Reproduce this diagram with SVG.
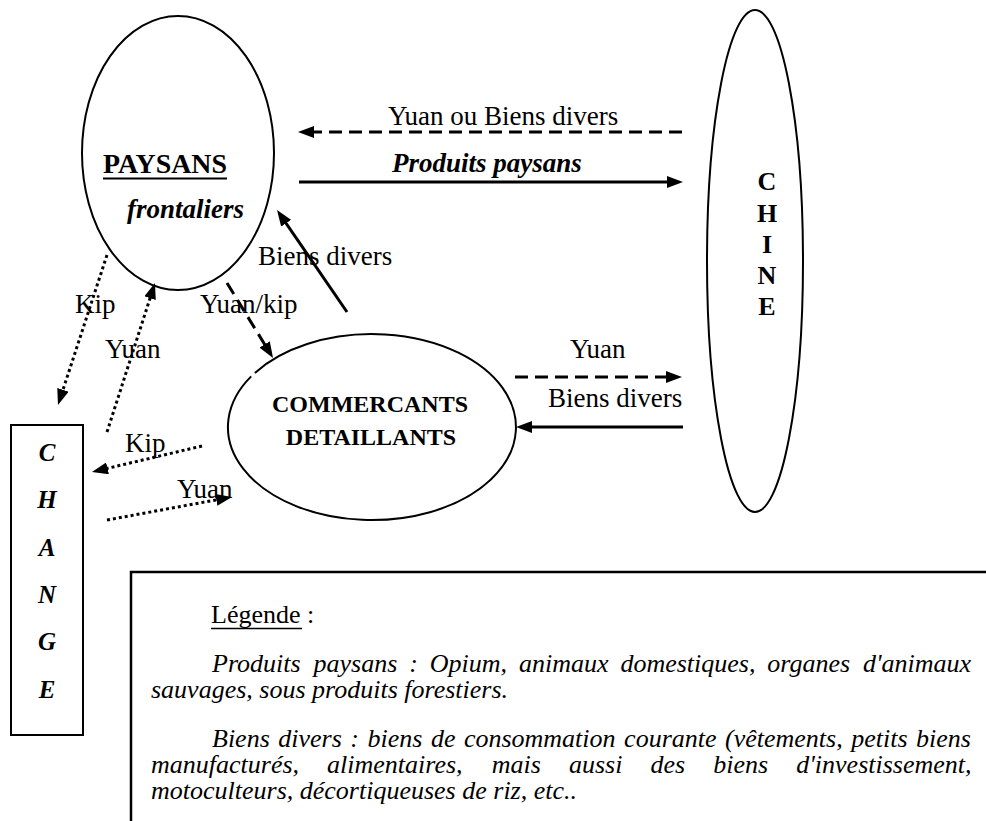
<svg xmlns="http://www.w3.org/2000/svg" width="986" height="821" viewBox="0 0 986 821">
<defs>
<style>
.node{fill:none;stroke:#000;stroke-width:2}
.t{font-family:"Liberation Serif","Times New Roman",serif;fill:#000}
.lbl{font-size:27px}
.b{font-weight:bold}
.i{font-style:italic}
.leg{font-size:26px;font-style:italic}
.c{fill:none;stroke:#000;stroke-width:3}
.dash{stroke-dasharray:13 7}
.dot{stroke-dasharray:3 3}
</style>
<marker id="ah" markerUnits="userSpaceOnUse" markerWidth="16" markerHeight="12" refX="6" refY="6" orient="auto">
<path d="M0,0 L16,6 L0,12 z" fill="#000"/>
</marker>
</defs>
<rect width="986" height="821" fill="#fff"/>

<g id="paysans">
<ellipse class="node" cx="178" cy="153" rx="96" ry="137"/>
<text class="t b" x="103" y="173" font-size="27" textLength="124" lengthAdjust="spacingAndGlyphs">PAYSANS</text>
<line x1="103" y1="178.5" x2="227" y2="178.5" stroke="#000" stroke-width="2"/>
<text class="t b i" x="127" y="218" font-size="27">frontaliers</text>
</g>

<g id="chine">
<ellipse class="node" cx="755" cy="261" rx="48" ry="251"/>
<text class="t b" font-size="26" text-anchor="middle"><tspan x="767" y="190">C</tspan><tspan x="767" y="222">H</tspan><tspan x="767" y="253">I</tspan><tspan x="767" y="284">N</tspan><tspan x="767" y="315">E</tspan></text>
</g>

<g id="commercants">
<path class="node" d="M254.9,372.9 A144,93 0 1 1 251.2,376.4"/>
<text class="t b" font-size="24" text-anchor="middle" x="370" y="412">COMMERCANTS</text>
<text class="t b" font-size="24" text-anchor="middle" x="371" y="445">DETAILLANTS</text>
</g>

<g id="change">
<rect class="node" x="11" y="425" width="72" height="310"/>
<text class="t b i" font-size="25" text-anchor="middle"><tspan x="47" y="461">C</tspan><tspan x="47" y="508">H</tspan><tspan x="47" y="556">A</tspan><tspan x="47" y="603">N</tspan><tspan x="47" y="650">G</tspan><tspan x="47" y="698">E</tspan></text>
</g>

<g id="connectors">
<path class="c dash" d="M682,132 L308,132" marker-end="url(#ah)"/>
<path class="c" d="M299,182 L673,182" marker-end="url(#ah)"/>
<path class="c" d="M347,312 L282.7,218.3" marker-end="url(#ah)"/>
<path class="c dash" d="M227,283 L267.8,349.5" marker-end="url(#ah)"/>
<path class="c dot" d="M107,255 L61.1,395.5" marker-end="url(#ah)"/>
<path class="c dot" d="M107,432 L151.9,292.5" marker-end="url(#ah)"/>
<path class="c dash" d="M515,377 L672,377" marker-end="url(#ah)"/>
<path class="c" d="M683,427 L526,427" marker-end="url(#ah)"/>
<path class="c dot" d="M202,446 L101.7,469.7" marker-end="url(#ah)"/>
<path class="c dot" d="M107,520 L222.2,498.8" marker-end="url(#ah)"/>
</g>

<g id="labels">
<text class="t lbl" x="388" y="125">Yuan ou Biens divers</text>
<text class="t lbl b i" x="392" y="172">Produits paysans</text>
<text class="t lbl" x="258" y="265">Biens divers</text>
<text class="t lbl" x="75" y="313">Kip</text>
<text class="t lbl" x="105" y="358">Yuan</text>
<text class="t lbl" x="200" y="313">Yuan/kip</text>
<text class="t lbl" x="570" y="358">Yuan</text>
<text class="t lbl" x="548" y="407">Biens divers</text>
<text class="t lbl" x="125" y="452">Kip</text>
<text class="t lbl" x="177" y="498">Yuan</text>
</g>

<g id="legende">
<rect x="131" y="572" width="900" height="300" fill="none" stroke="#000" stroke-width="2.5"/>
<text class="t" font-size="26" x="211" y="623">Légende :</text>
<line x1="211" y1="628.5" x2="302" y2="628.5" stroke="#000" stroke-width="1.5"/>
<text class="t leg" y="672"><tspan x="212">Produits</tspan><tspan x="313.5">paysans</tspan><tspan x="409.2">:</tspan><tspan x="429.8">Opium,</tspan><tspan x="519">animaux</tspan><tspan x="620.4">domestiques,</tspan><tspan x="767.3">organes</tspan><tspan x="863">d'animaux</tspan></text>
<text class="t leg" x="151" y="698">sauvages, sous produits forestiers.</text>
<text class="t leg" y="747"><tspan x="212">Biens</tspan><tspan x="278.3">divers</tspan><tspan x="350.3">:</tspan><tspan x="367.5">biens</tspan><tspan x="430.9">de</tspan><tspan x="463.9">consommation</tspan><tspan x="624.1">courante</tspan><tspan x="725">(vêtements,</tspan><tspan x="851.2">petits</tspan><tspan x="916">biens</tspan></text>
<text class="t leg" y="773"><tspan x="151">manufacturés,</tspan><tspan x="327.1">alimentaires,</tspan><tspan x="491.7">mais</tspan><tspan x="568.9">aussi</tspan><tspan x="650.5">des</tspan><tspan x="713.3">biens</tspan><tspan x="796.3">d'investissement,</tspan></text>
<text class="t leg" x="151" y="799">motoculteurs, décortiqueuses de riz, etc..</text>
</g>
</svg>
